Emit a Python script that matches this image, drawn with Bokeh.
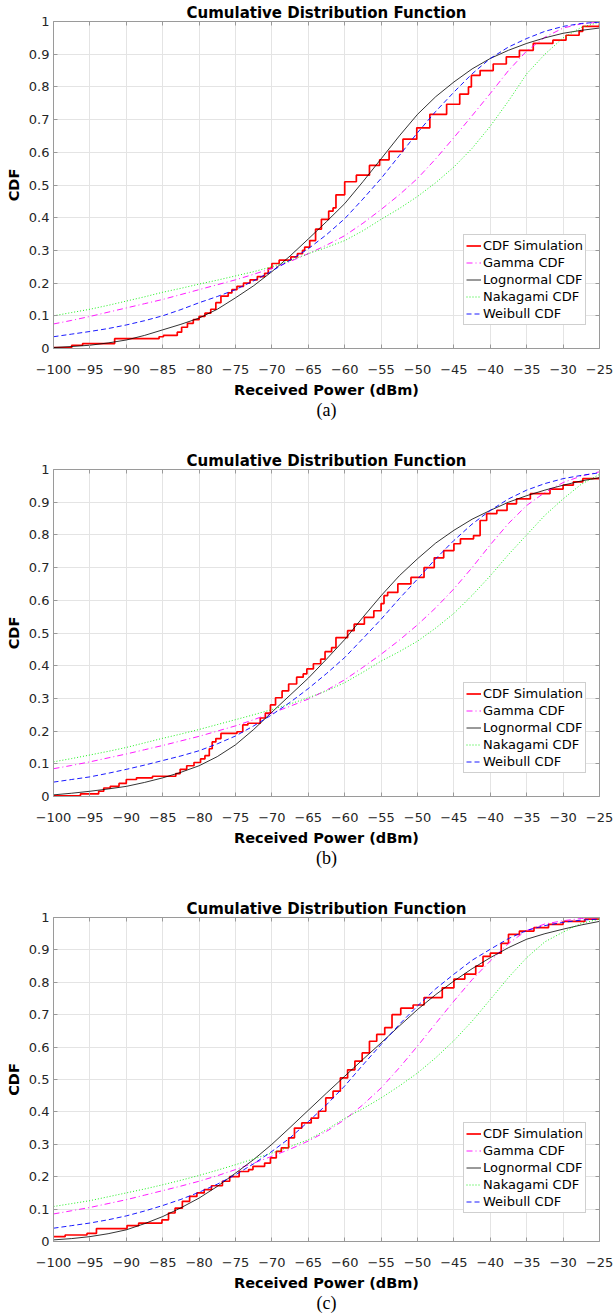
from bokeh.plotting import figure
from bokeh.layouts import column
from bokeh.models import Range1d, FixedTicker, LinearAxis, Title, Legend, LegendItem
from bokeh.embed import file_html
from bokeh.resources import INLINE

# ---------------- data ----------------
x_ticks = [-100, -95, -90, -85, -80, -75, -70, -65, -60, -55, -50, -45, -40, -35, -30, -25]
x_tick_labels = ["\u2212100", "\u221295", "\u221290", "\u221285", "\u221280", "\u221275", "\u221270",
                 "\u221265", "\u221260", "\u221255", "\u221250", "\u221245", "\u221240", "\u221235",
                 "\u221230", "\u221225"]
y_ticks = [0, 0.1, 0.2, 0.3, 0.4, 0.5, 0.6, 0.7, 0.8, 0.9, 1.0]
y_tick_labels = ["0", "0.1", "0.2", "0.3", "0.4", "0.5", "0.6", "0.7", "0.8", "0.9", "1"]

# received power (dBm) at which the fitted curves were read
fit_x = [-100, -97.5, -95, -92.5, -90, -87.5, -85, -82.5, -80, -77.5, -75, -72.5, -70, -67.5, -65, -62.5,
         -60, -57.5, -55, -52.5, -50, -47.5, -45, -42.5, -40, -37.5, -35, -32.5, -30, -27.5, -25]

# panel (a)
a_gamma = [0.075, 0.086, 0.098, 0.111, 0.124, 0.137, 0.150, 0.165, 0.180, 0.195, 0.210, 0.227, 0.245, 0.266,
           0.290, 0.316, 0.345, 0.383, 0.425, 0.470, 0.520, 0.580, 0.645, 0.712, 0.780, 0.850, 0.910, 0.952,
           0.980, 0.993, 0.998]
a_lognormal = [0.003, 0.006, 0.010, 0.017, 0.026, 0.040, 0.057, 0.074, 0.093, 0.120, 0.155, 0.192, 0.235, 0.283,
               0.335, 0.388, 0.443, 0.510, 0.580, 0.650, 0.716, 0.770, 0.815, 0.855, 0.887, 0.912, 0.933, 0.950,
               0.964, 0.973, 0.980]
a_nakagami = [0.100, 0.110, 0.120, 0.132, 0.145, 0.158, 0.172, 0.184, 0.197, 0.209, 0.222, 0.235, 0.250, 0.269,
              0.290, 0.309, 0.330, 0.360, 0.395, 0.428, 0.465, 0.507, 0.555, 0.612, 0.680, 0.757, 0.840, 0.900,
              0.950, 0.982, 0.998]
a_weibull = [0.036, 0.044, 0.052, 0.061, 0.072, 0.085, 0.100, 0.119, 0.140, 0.159, 0.180, 0.207, 0.237, 0.270,
             0.305, 0.348, 0.397, 0.457, 0.520, 0.590, 0.660, 0.725, 0.784, 0.840, 0.887, 0.922, 0.948, 0.970,
             0.985, 0.994, 0.998]
a_sim_x = [-100, -97.5, -96, -91.6, -85.5, -84.9, -83, -82.4, -81.6, -80.8, -80, -79.2, -78.4, -77.7, -77,
           -76, -75.5, -74.8, -73.9, -73, -72, -71, -70.5, -70, -69, -67.4, -66.5, -65.8, -65.5, -64.8,
           -64, -63.2, -62.2, -61.6, -61.2, -60, -58.4, -56.6, -55.2, -53.9, -52, -50.1, -48.3, -46,
           -44.2, -43, -42.6, -41.4, -39.6, -37.8, -36, -34.1, -31.4, -29.6, -27.8, -27.3, -25]
a_sim_y = [0.003, 0.010, 0.015, 0.030, 0.036, 0.040, 0.050, 0.065, 0.077, 0.088, 0.098, 0.108, 0.120, 0.140, 0.160,
           0.170, 0.180, 0.190, 0.200, 0.210, 0.220, 0.230, 0.245, 0.260, 0.270, 0.280, 0.290, 0.300, 0.310, 0.330,
           0.365, 0.395, 0.420, 0.430, 0.470, 0.510, 0.530, 0.560, 0.577, 0.603, 0.640, 0.675, 0.716, 0.747,
           0.778, 0.800, 0.835, 0.850, 0.870, 0.892, 0.912, 0.933, 0.943, 0.958, 0.970, 0.985, 0.995]

# panel (b)
b_gamma = [0.085, 0.095, 0.106, 0.118, 0.130, 0.143, 0.156, 0.170, 0.184, 0.200, 0.216, 0.235, 0.255, 0.276,
           0.298, 0.325, 0.357, 0.395, 0.435, 0.478, 0.525, 0.577, 0.635, 0.700, 0.770, 0.835, 0.890, 0.930,
           0.960, 0.980, 0.993]
b_lognormal = [0.005, 0.010, 0.016, 0.023, 0.031, 0.043, 0.057, 0.074, 0.094, 0.122, 0.158, 0.205, 0.258, 0.310,
               0.362, 0.420, 0.480, 0.548, 0.614, 0.675, 0.727, 0.775, 0.814, 0.848, 0.875, 0.900, 0.920, 0.937,
               0.952, 0.965, 0.975]
b_nakagami = [0.106, 0.116, 0.127, 0.138, 0.150, 0.164, 0.178, 0.191, 0.205, 0.220, 0.235, 0.250, 0.266, 0.283,
              0.302, 0.323, 0.348, 0.380, 0.414, 0.443, 0.475, 0.515, 0.560, 0.615, 0.675, 0.740, 0.800, 0.860,
              0.910, 0.955, 0.985]
b_weibull = [0.044, 0.052, 0.060, 0.071, 0.083, 0.096, 0.110, 0.124, 0.140, 0.161, 0.185, 0.216, 0.250, 0.288,
             0.330, 0.376, 0.425, 0.483, 0.542, 0.605, 0.665, 0.727, 0.783, 0.833, 0.875, 0.910, 0.937, 0.957,
             0.972, 0.982, 0.990]
b_sim_x = [-100, -96.3, -93.8, -93.1, -92.2, -91, -90, -88.6, -86.4, -83.2, -82.6, -81.7, -80.7, -79.8, -79.2,
           -78.6, -78.2, -77.7, -77, -74.8, -74, -73.3, -71.6, -70.9, -70.2, -69.5, -68.6, -67.7, -66.6, -65.7,
           -65.2, -64.3, -63.3, -62.7, -61.8, -61.2, -59.6, -58.7, -57.3, -56, -55, -54.6, -54.1, -52.7, -50.9,
           -49.1, -47.7, -46.4, -45, -44.1, -42.3, -41.4, -40.5, -39.1, -37.7, -36.4, -34.5, -31.8, -30, -28.6,
           -27.3, -25]
b_sim_y = [0.002, 0.008, 0.016, 0.026, 0.031, 0.040, 0.052, 0.057, 0.062, 0.070, 0.083, 0.094, 0.104, 0.115, 0.125,
           0.146, 0.167, 0.177, 0.193, 0.198, 0.219, 0.224, 0.240, 0.255, 0.280, 0.302, 0.323, 0.344, 0.365, 0.375,
           0.390, 0.406, 0.420, 0.443, 0.455, 0.486, 0.507, 0.527, 0.548, 0.568, 0.590, 0.614, 0.624, 0.650, 0.670,
           0.700, 0.730, 0.752, 0.773, 0.788, 0.798, 0.844, 0.865, 0.875, 0.895, 0.910, 0.926, 0.940, 0.952, 0.962,
           0.972, 0.978]

# panel (c)
c_gamma = [0.085, 0.095, 0.105, 0.117, 0.129, 0.143, 0.157, 0.171, 0.186, 0.203, 0.222, 0.242, 0.263, 0.285,
           0.310, 0.340, 0.376, 0.422, 0.474, 0.536, 0.603, 0.673, 0.742, 0.808, 0.866, 0.920, 0.960, 0.980,
           0.990, 0.997, 1.000]
c_lognormal = [0.005, 0.009, 0.015, 0.024, 0.036, 0.055, 0.077, 0.104, 0.134, 0.170, 0.211, 0.253, 0.300, 0.352,
               0.405, 0.458, 0.510, 0.562, 0.613, 0.665, 0.716, 0.762, 0.804, 0.842, 0.876, 0.907, 0.933, 0.950,
               0.964, 0.977, 0.988]
c_nakagami = [0.108, 0.117, 0.126, 0.138, 0.150, 0.162, 0.175, 0.189, 0.204, 0.220, 0.237, 0.255, 0.273, 0.293,
              0.314, 0.345, 0.380, 0.410, 0.443, 0.480, 0.520, 0.567, 0.620, 0.680, 0.747, 0.815, 0.876, 0.925,
              0.955, 0.982, 0.995]
c_weibull = [0.041, 0.049, 0.057, 0.067, 0.079, 0.094, 0.111, 0.130, 0.152, 0.177, 0.206, 0.240, 0.278, 0.320,
             0.370, 0.422, 0.480, 0.545, 0.608, 0.670, 0.727, 0.780, 0.825, 0.868, 0.902, 0.935, 0.960, 0.975,
             0.985, 0.992, 0.995]
c_sim_x = [-100, -98.4, -95.4, -94.1, -89.9, -88.3, -85.1, -84.2, -83.3, -82.3, -81.3, -80.3, -79.3, -78.3, -76.8,
           -75.8, -74.5, -73.2, -72.6, -71, -70.2, -69.4, -68.7, -67.7, -66.9, -65.9, -64.6, -63.6, -62.6, -61.6,
           -60.6, -59.6, -58.6, -57.6, -56.6, -55.6, -54.5, -53.5, -52.3, -50.6, -49.1, -46.6, -45, -43.5, -42,
           -41, -40, -38.5, -37.5, -36, -34, -32, -30, -27, -25]
c_sim_y = [0.015, 0.020, 0.025, 0.040, 0.049, 0.057, 0.067, 0.088, 0.103, 0.124, 0.139, 0.150, 0.160, 0.172, 0.186,
           0.200, 0.216, 0.222, 0.232, 0.242, 0.258, 0.278, 0.289, 0.320, 0.350, 0.366, 0.381, 0.402, 0.443, 0.464,
           0.505, 0.530, 0.557, 0.582, 0.618, 0.639, 0.660, 0.700, 0.720, 0.730, 0.753, 0.783, 0.810, 0.825, 0.850,
           0.880, 0.890, 0.920, 0.948, 0.958, 0.969, 0.979, 0.988, 0.995, 0.998]

series_labels = ["CDF Simulation", "Gamma CDF", "Lognormal CDF", "Nakagami CDF", "Weibull CDF"]
title_text = "Cumulative Distribution Function"
x_label = "Received Power (dBm)"
y_label = "CDF"

# ---------------- styling ----------------
FONT = "DejaVu Sans"
AXIS_COL = "#9a9a9a"
GRID_COL = "#e4e4e4"
TICK_TEXT = "#262626"


def style_axis(ax, show_labels):
    ax.major_tick_in = 4
    ax.major_tick_out = 0
    ax.minor_tick_in = 0
    ax.minor_tick_out = 0
    ax.axis_line_color = AXIS_COL
    ax.major_tick_line_color = AXIS_COL
    ax.axis_line_width = 1
    if show_labels:
        ax.major_label_text_font = FONT
        ax.major_label_text_font_size = "13px"
        ax.major_label_text_color = TICK_TEXT
        ax.axis_label_text_font = FONT
        ax.axis_label_text_font_size = "14.5px"
        ax.axis_label_text_font_style = "bold"
        ax.axis_label_text_color = "#000000"
    else:
        ax.major_label_text_font_size = "1px"
        ax.major_label_text_alpha = 0
        ax.major_label_standoff = 0


def make_panel(sim_x, sim_y, gamma, logn, naka, weib, caption, height, frame_h, legend_dy):
    top = 21
    p = figure(width=614, height=height,
               x_range=Range1d(-100, -25), y_range=Range1d(0, 1),
               output_backend="svg", toolbar_location=None,
               min_border_left=53, min_border_right=15,
               min_border_top=top, min_border_bottom=height - top - frame_h)
    p.outline_line_color = None
    p.background_fill_color = "white"
    p.border_fill_color = "white"

    p.title.text = title_text
    p.title.align = "center"
    p.title.text_font = FONT
    p.title.text_font_size = "15px"
    p.title.text_font_style = "bold"
    p.title.text_color = "#000000"
    p.title.standoff = 0

    xt = FixedTicker(ticks=x_ticks)
    yt = FixedTicker(ticks=y_ticks)
    p.xaxis.ticker = xt
    p.yaxis.ticker = yt
    p.xaxis.major_label_overrides = dict(zip(x_ticks, x_tick_labels))
    p.yaxis.major_label_overrides = dict(zip(y_ticks, y_tick_labels))
    p.xaxis.axis_label = x_label
    p.yaxis.axis_label = y_label
    style_axis(p.xaxis[0], True)
    style_axis(p.yaxis[0], True)
    p.xaxis.major_label_standoff = 16
    p.xaxis.axis_label_standoff = 5
    p.yaxis.major_label_standoff = 4
    p.yaxis.axis_label_standoff = 4

    top_ax = LinearAxis(ticker=xt)
    right_ax = LinearAxis(ticker=yt)
    style_axis(top_ax, False)
    style_axis(right_ax, False)
    p.add_layout(top_ax, "above")
    p.add_layout(right_ax, "right")

    p.xgrid.ticker = xt
    p.ygrid.ticker = yt
    p.xgrid.grid_line_color = GRID_COL
    p.ygrid.grid_line_color = GRID_COL
    p.xgrid.grid_line_width = 1
    p.ygrid.grid_line_width = 1

    r_sim = p.step(sim_x, sim_y, mode="after", line_color="#ff0000", line_width=1.7)
    r_gam = p.line(fit_x, gamma, line_color="#ff00ff", line_width=0.9, line_dash="6 3 1 3")
    r_log = p.line(fit_x, logn, line_color="#000000", line_width=0.8)
    r_nak = p.line(fit_x, naka, line_color="#00ee00", line_width=0.9, line_dash="1 2")
    r_wei = p.line(fit_x, weib, line_color="#0000ff", line_width=0.9, line_dash="5 3")

    legend = Legend(items=[LegendItem(label=lab, renderers=[r]) for lab, r in
                           zip(series_labels, [r_sim, r_gam, r_log, r_nak, r_wei])],
                    location=(410, legend_dy))
    legend.padding = 2
    legend.spacing = 0
    legend.margin = 0
    legend.label_height = 17
    legend.glyph_height = 17
    legend.glyph_width = 15
    legend.label_standoff = 2
    legend.label_text_font = FONT
    legend.label_text_font_size = "13px"
    legend.label_text_color = "#000000"
    legend.border_line_color = "#a0a0a0"
    legend.background_fill_alpha = 1.0
    p.add_layout(legend)

    cap = Title(text=caption, align="center", text_font="Liberation Serif",
                text_font_size="18px", text_font_style="normal", text_color="#000000",
                standoff=-5)
    p.add_layout(cap, "below")
    return p


pa = make_panel(a_sim_x, a_sim_y, a_gamma, a_lognormal, a_nakagami, a_weibull, "(a)", 448, 327, 23)
pb = make_panel(b_sim_x, b_sim_y, b_gamma, b_lognormal, b_nakagami, b_weibull, "(b)", 448, 327, 23)
pc = make_panel(c_sim_x, c_sim_y, c_gamma, c_lognormal, c_nakagami, c_weibull, "(c)", 420, 324, 28)

layout = column(pa, pb, pc, spacing=0)
open("out.html", "w").write(file_html(layout, INLINE))
